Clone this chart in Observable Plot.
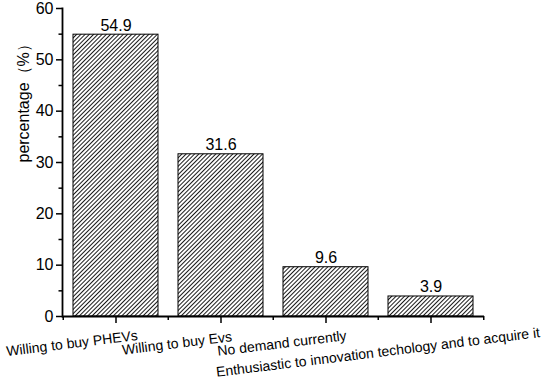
<!DOCTYPE html>
<html><head><meta charset="utf-8">
<script src="https://cdn.jsdelivr.net/npm/d3@7"></script>
<script src="https://cdn.jsdelivr.net/npm/@observablehq/plot@0.6"></script>
<style>body{margin:0;background:#fff}</style>
</head><body><div id="chart"></div>
<script>
const categories = ["Willing to buy PHEVs", "Willing to buy Evs", "No demand currently", "Enthusiastic to innovation techology and to acquire it"];
const values = [54.9, 31.6, 9.6, 3.9];
const valueLabels = ["54.9", "31.6", "9.6", "3.9"];
const yTicks = [0, 10, 20, 30, 40, 50, 60];
const yMinorTicks = [5, 15, 25, 35, 45, 55];
const yLabel = "percentage（%）";

const data = categories.map((c, i) => ({category: c, value: values[i], label: valueLabels[i]}));
const font = "'Liberation Sans', Arial, sans-serif";
const W = 550, H = 380, ML = 62, MR = 66, MT = 8, MB = 64;
const half = (W - ML - MR) / categories.length / 2;

const chart = Plot.plot({
  width: W, height: H, marginLeft: ML, marginRight: MR, marginTop: MT, marginBottom: MB,
  style: {fontFamily: font, background: "white", color: "black", overflow: "visible"},
  x: {domain: categories, paddingInner: 0.19, paddingOuter: 0.095},
  y: {domain: [0, 60]},
  marks: [
    Plot.barY(data, {x: "category", y: "value", fill: "url(#hatch)", stroke: "black", strokeWidth: 1}),
    Plot.text(data, {x: "category", y: "value", text: "label", lineAnchor: "bottom", dy: -4, fontSize: 16, fill: "black"}),
    Plot.axisY({ticks: yTicks, tickSize: 6, tickPadding: 3, fontSize: 16, label: null, strokeWidth: 1.5}),
    Plot.axisY({ticks: yMinorTicks, tickSize: 3.5, tickFormat: () => "", label: null, strokeWidth: 1.5}),
    Plot.axisX({ticks: categories, tickSize: 7, tickFormat: () => "", label: null, strokeWidth: 1.5}),
    Plot.axisX({ticks: categories, tickSize: 4, dx: -half, tickFormat: () => "", label: null, strokeWidth: 1.5}),
    Plot.axisX({ticks: categories.slice(-1), tickSize: 4, dx: half, tickFormat: () => "", label: null, strokeWidth: 1.5}),
    Plot.ruleY([0], {strokeWidth: 1.8}),
    Plot.frame({anchor: "left", strokeWidth: 1.8}),
    Plot.text(categories.slice(0, 3), {x: d => d, frameAnchor: "bottom", rotate: -7, dx: -44, dy: 27, fontSize: 14, lineAnchor: "middle", fill: "black"}),
    Plot.text(categories.slice(3), {x: d => d, frameAnchor: "bottom", rotate: -7, dx: -53, dy: 36, fontSize: 14, lineAnchor: "middle", fill: "black"}),
    Plot.text([yLabel], {frameAnchor: "left", rotate: -90, dx: -39, fontSize: 16, fill: "black"})
  ]
});

d3.select(chart).insert("defs", ":first-child").html(
  `<pattern id="hatch" patternUnits="userSpaceOnUse" width="3" height="3" patternTransform="rotate(45)">
     <rect width="3" height="3" fill="white"/>
     <line x1="0.5" y1="0" x2="0.5" y2="3" stroke="black" stroke-width="0.9"/>
   </pattern>`
);
document.getElementById("chart").appendChild(chart);
</script>
</body></html>
